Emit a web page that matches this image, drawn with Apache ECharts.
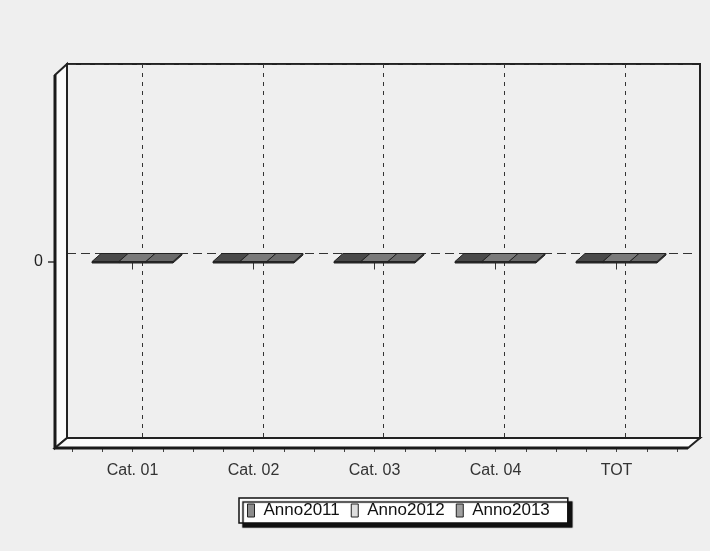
<!DOCTYPE html>
<html>
<head>
<meta charset="utf-8">
<script src="https://cdn.jsdelivr.net/npm/echarts@6/dist/echarts.min.js"></script>
<style>
html,body{margin:0;padding:0;background:#efefef;}
#chart{width:710px;height:551px;}
</style>
</head>
<body>
<div id="chart"></div>
<script>
// ---- data ----
const categories = ['Cat. 01', 'Cat. 02', 'Cat. 03', 'Cat. 04', 'TOT'];
const seriesNames = ['Anno2011', 'Anno2012', 'Anno2013'];
const anno2011 = [0, 0, 0, 0, 0];
const anno2012 = [0, 0, 0, 0, 0];
const anno2013 = [0, 0, 0, 0, 0];
const yTickValues = [0];

// ---- styles / layout ----
const FONT = "'Liberation Sans', Arial, sans-serif";
const legendColors = ['#8c8c8c', '#dedede', '#a0a0a0'];
const topColors = ['#4a4a4a', '#7a7a7a', '#6a6a6a'];
const BACK = { l: 67, t: 64, r: 700, b: 438 };
const FRONT = { l: 55, t: 75, r: 688, b: 448 };
const BAR_FRAC = 0.223;
const DX = 9, DY = -8;

function makeRender(k) {
  return function (params, api) {
    const ci = api.value(0), v = api.value(1);
    const p0 = api.coord([ci, 0]);
    const p1 = api.coord([ci, v]);
    const catW = api.size([1, 0])[0];
    const bw = catW * BAR_FRAC;
    const x0 = p0[0] + (k - 1) * bw - bw / 2;
    const x1 = x0 + bw;
    const yt = Math.min(p0[1], p1[1]);
    const yb = Math.max(p0[1], p1[1]);
    const h = Math.max(1.5, yb - yt);
    return {
      type: 'group',
      children: [
        { type: 'polygon', shape: { points: [[x1, yt], [x1 + DX, yt + DY], [x1 + DX, yt + h + DY], [x1, yt + h]] },
          style: { fill: '#333', stroke: '#222', lineWidth: 1 } },
        { type: 'rect', shape: { x: x0, y: yt, width: bw, height: h },
          style: { fill: '#2a2a2a', stroke: '#222', lineWidth: 1 } },
        { type: 'polygon', shape: { points: [[x0, yt], [x1, yt], [x1 + DX, yt + DY], [x0 + DX, yt + DY]] },
          style: { fill: topColors[k], stroke: '#222', lineWidth: 1 } }
      ]
    };
  };
}

const allValues = [anno2011, anno2012, anno2013];

const chart = echarts.init(document.getElementById('chart'));
chart.setOption({
  backgroundColor: '#efefef',
  animation: false,
  textStyle: { fontFamily: FONT },
  grid: [
    // back wall frame
    { left: BACK.l, top: BACK.t, width: BACK.r - BACK.l, height: BACK.b - BACK.t, show: true,
      borderColor: '#222', borderWidth: 2, backgroundColor: 'transparent' },
    // back wall vertical gridlines (category centres)
    { left: 142, top: BACK.t, width: 483, height: BACK.b - BACK.t },
    // front categories (labels, ticks, bars)
    { left: 72, top: FRONT.t, width: 605, height: FRONT.b - FRONT.t },
    // front-left wall: value axis
    { left: FRONT.l, top: FRONT.t, width: FRONT.r - FRONT.l, height: FRONT.b - FRONT.t },
    // back wall horizontal gridline at 0
    { left: BACK.l, top: BACK.t, width: 630, height: 378 }
  ],
  xAxis: [
    { gridIndex: 0, type: 'value', min: 0, max: 1, show: false },
    { gridIndex: 1, type: 'category', data: categories, boundaryGap: false,
      axisLine: { show: false }, axisTick: { show: false }, axisLabel: { show: false },
      splitLine: { show: true, lineStyle: { color: '#333', width: 1, type: [4, 5] } } },
    { gridIndex: 2, type: 'category', data: categories, boundaryGap: true, position: 'bottom',
      axisLine: { show: false },
      axisTick: { show: true, alignWithLabel: true, length: 8, lineStyle: { color: '#333', width: 1 } },
      axisLabel: { show: true, margin: 15, fontSize: 16, color: '#333', fontFamily: FONT },
      splitLine: { show: false } },
    { gridIndex: 2, type: 'value', min: 0, max: 20, interval: 1, position: 'bottom',
      axisLine: { show: false }, axisLabel: { show: false }, splitLine: { show: false },
      axisTick: { show: true, length: 4, lineStyle: { color: '#444', width: 1 } } },
    { gridIndex: 3, type: 'value', min: 0, max: 1, show: false },
    { gridIndex: 4, type: 'value', min: 0, max: 1, show: false }
  ],
  yAxis: [
    { gridIndex: 0, type: 'value', min: -1, max: 1, show: false },
    { gridIndex: 1, type: 'value', min: -1, max: 1, show: false },
    { gridIndex: 2, type: 'value', min: -1, max: 1, show: false },
    { gridIndex: 3, type: 'value', min: -1, max: 1,
      axisLine: { show: false },
      axisTick: { show: true, customValues: yTickValues, length: 7, lineStyle: { color: '#333', width: 1.5 } },
      axisLabel: { show: true, customValues: yTickValues, margin: 12, fontSize: 16, color: '#222', fontFamily: FONT },
      splitLine: { show: false } },
    { gridIndex: 4, type: 'value', min: -1, max: 1, interval: 1,
      axisLine: { show: false }, axisTick: { show: false }, axisLabel: { show: false },
      splitLine: { show: true, lineStyle: { color: '#333', width: 1, type: [9, 5] } } }
  ],
  legend: {
    left: 239, top: 498, orient: 'horizontal',
    data: seriesNames,
    icon: 'rect', itemWidth: 7, itemHeight: 13, itemGap: 11,
    padding: [4, 18, 4, 8],
    backgroundColor: '#ffffff', borderColor: '#111', borderWidth: 1.5,
    shadowColor: '#111', shadowBlur: 1, shadowOffsetX: 4, shadowOffsetY: 4,
    itemStyle: { borderColor: '#222', borderWidth: 1 },
    textStyle: { fontSize: 17, color: '#111', fontFamily: FONT, padding: [0, 0, 0, 4] }
  },
  graphic: [
    { type: 'polygon', z: 1,
      shape: { points: [[FRONT.l, FRONT.t], [BACK.l, BACK.t], [BACK.l, BACK.b], [FRONT.l, FRONT.b]] },
      style: { fill: '#fbfbfb', stroke: '#222', lineWidth: 2 } },
    { type: 'polygon', z: 1,
      shape: { points: [[FRONT.l, FRONT.b], [BACK.l, BACK.b], [BACK.r, BACK.b], [FRONT.r, FRONT.b]] },
      style: { fill: '#fbfbfb', stroke: '#222', lineWidth: 2 } },
    { type: 'polyline', z: 1,
      shape: { points: [[FRONT.l, FRONT.t], [FRONT.l, FRONT.b], [FRONT.r, FRONT.b]] },
      style: { fill: null, stroke: '#1a1a1a', lineWidth: 3 } }
  ],
  series: seriesNames.map(function (name, k) {
    return {
      name: name, type: 'custom', xAxisIndex: 2, yAxisIndex: 2, z: 3,
      itemStyle: { color: legendColors[k], borderColor: '#222', borderWidth: 1 },
      renderItem: makeRender(k),
      encode: { x: 0, y: 1 },
      data: allValues[k].map(function (v, i) { return [i, v]; })
    };
  })
});
</script>
</body>
</html>
